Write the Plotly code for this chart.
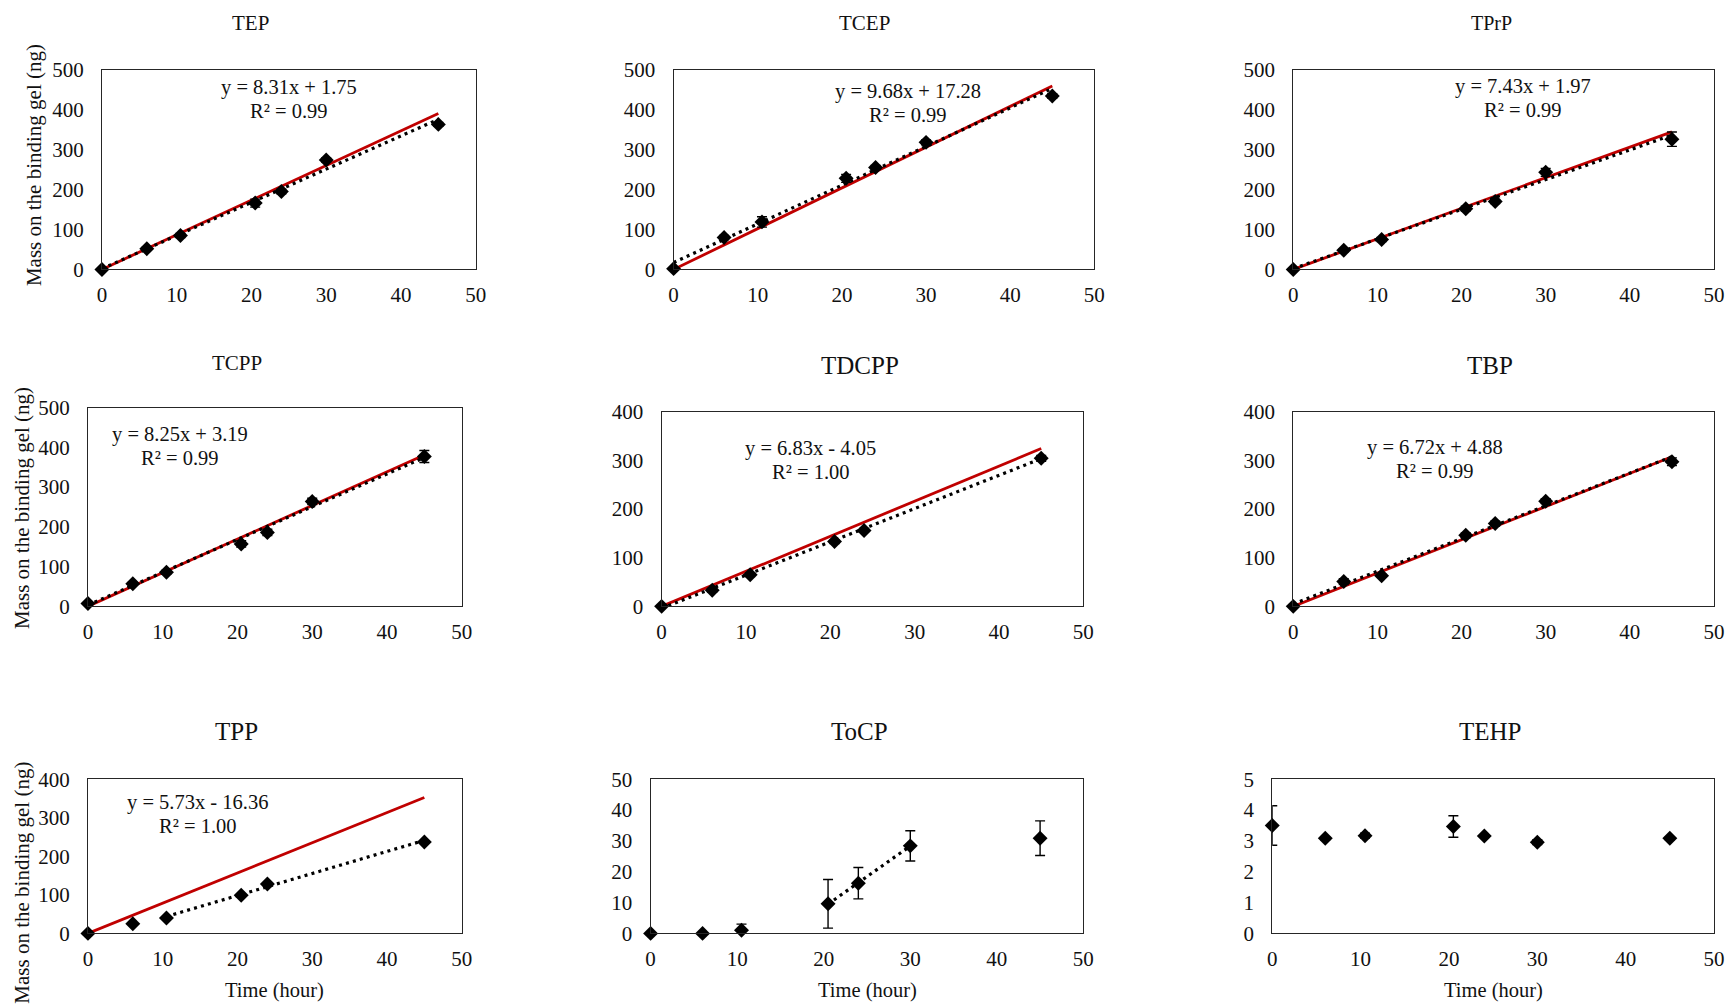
import plotly.graph_objects as go

# Sampling times (hour)
times = [0, 6, 10.5, 20.5, 24, 30, 45]

# Mass on the binding gel (ng) and standard deviations for each compound
tep = [0, 52, 85, 166, 195, 274, 363]
tep_err = [2, 4, 5, 10, 6, 5, 5]
tcep = [2, 80, 119, 228, 255, 318, 434]
tcep_err = [2, 5, 13, 10, 5, 6, 6]
tprp = [0, 48, 75, 152, 170, 243, 326]
tprp_err = [2, 4, 5, 6, 5, 10, 18]
tcpp = [7, 57, 86, 157, 186, 264, 377]
tcpp_err = [3, 4, 5, 8, 8, 8, 15]
tdcpp = [0, 33, 65, 133, 156, None, 304]
tdcpp_err = [2, 4, 4, 4, 4, 0, 6]
tbp = [0, 51, 63, 146, 170, 216, 297]
tbp_err = [2, 6, 3, 5, 5, 5, 8]
tpp = [0, 25, 40, 99, 128, None, 237]
tpp_err = [1, 2, 3, 3, 3, 0, 3]
tocp = [0, 0, 1.0, 9.6, 16.3, 28.4, 30.9]
tocp_err = [0, 0, 2.0, 7.9, 5.1, 4.9, 5.6]
tehp = [3.50, 3.09, 3.17, 3.47, 3.16, 2.96, 3.09]
tehp_err = [0.64, 0.05, 0.08, 0.35, 0.04, 0.08, 0.05]

titles = ["TEP", "TCEP", "TPrP", "TCPP", "TDCPP", "TBP", "TPP", "ToCP", "TEHP"]
title_sizes = [21, 21, 20, 21, 25, 25, 25, 25, 25]
y_max = [500, 500, 500, 500, 400, 400, 400, 50, 5]
y_step = [100, 100, 100, 100, 100, 100, 100, 10, 1]

# Linear fits (dotted) and theoretical uptake lines (red)
fit_slope = [8.31, 9.68, 7.43, 8.25, 6.83, 6.72, 5.73, None, None]
fit_intercept = [1.75, 17.28, 1.97, 3.19, -4.05, 4.88, -16.36, None, None]
fit_r2 = ["0.99", "0.99", "0.99", "0.99", "1.00", "0.99", "1.00", None, None]
fit_start = [0, 0, 0, 0, 0, 0, 10.5, 20.5, None]
fit_end = [45, 45, 45, 45, 45, 45, 45, 30, None]
theory_slope = [8.67, 10.2, 7.65, 8.46, 7.2, 6.83, 7.84, None, None]

values = [tep, tcep, tprp, tcpp, tdcpp, tbp, tpp, tocp, tehp]
errors = [tep_err, tcep_err, tprp_err, tcpp_err, tdcpp_err, tbp_err, tpp_err, tocp_err, tehp_err]

W, H = 1731, 1008
# on-screen extent of the paper area (page pixels)
PAPER_L, PAPER_R, PAPER_T, PAPER_B = 6, 1722, 9, 999


def fx(px):
    return (px - PAPER_L) / (PAPER_R - PAPER_L)


def fy(py):
    return 1 - (py - PAPER_T) / (PAPER_B - PAPER_T)


# plot boxes in page pixels: (left, right, top, bottom)
boxes = [
    (103, 477, 67, 268), (675, 1096, 67, 268), (1295, 1716, 67, 268),
    (89, 463, 407, 607), (663, 1085, 411, 607), (1295, 1716, 411, 607),
    (89, 463, 781, 936), (652, 1085, 781, 936), (1274, 1716, 781, 936),
]
title_pos = [(252, 20), (866, 20), (1493, 20), (238, 362), (861, 365), (1492, 365),
             (238, 733), (861, 733), (1492, 733)]
eq_pos = [(290, 85), (910, 89), (1525, 84), (181, 434), (812, 448), (1437, 447),
          (199, 804), None, None]

FONT = "Liberation Serif"
RED = "#C00000"
DOT = "3px,4.2px"

fig = go.Figure()
annotations = []

for i in range(9):
    ax = "" if i == 0 else str(i + 1)
    xref, yref = "x" + ax, "y" + ax
    l, r, t, b = boxes[i]

    # theoretical uptake line
    if theory_slope[i] is not None:
        fig.add_trace(go.Scatter(
            x=[0, 45], y=[0, theory_slope[i] * 45], mode="lines",
            line=dict(color=RED, width=2.8), xaxis=xref, yaxis=yref,
            hoverinfo="skip", showlegend=False))

    # linear trendline
    if fit_slope[i] is not None:
        xs = [fit_start[i], fit_end[i]]
        ys = [fit_slope[i] * v + fit_intercept[i] for v in xs]
        fig.add_trace(go.Scatter(
            x=xs, y=ys, mode="lines", line=dict(color="black", width=3.2, dash=DOT),
            xaxis=xref, yaxis=yref, hoverinfo="skip", showlegend=False))
    elif fit_start[i] is not None:
        # least-squares trend through the points inside the fitted window
        pts = [(t_, v) for t_, v in zip(times, values[i])
               if v is not None and fit_start[i] <= t_ <= fit_end[i]]
        n = len(pts)
        mx = sum(p[0] for p in pts) / n
        my = sum(p[1] for p in pts) / n
        s = sum((p[0] - mx) * (p[1] - my) for p in pts) / sum((p[0] - mx) ** 2 for p in pts)
        c = my - s * mx
        xs = [fit_start[i], fit_end[i]]
        fig.add_trace(go.Scatter(
            x=xs, y=[s * v + c for v in xs], mode="lines",
            line=dict(color="black", width=3.2, dash=DOT),
            xaxis=xref, yaxis=yref, hoverinfo="skip", showlegend=False))

    # error bars (clipped to the plot area)
    fig.add_trace(go.Scatter(
        x=times, y=values[i], mode="markers",
        marker=dict(size=1, color="rgba(0,0,0,0)"),
        error_y=dict(type="data", array=errors[i], color="black", thickness=1.4, width=5),
        xaxis=xref, yaxis=yref, showlegend=False, cliponaxis=True, hoverinfo="skip"))
    # measured points
    fig.add_trace(go.Scatter(
        x=times, y=values[i], mode="markers",
        marker=dict(symbol="diamond", size=11.5, color="black"),
        xaxis=xref, yaxis=yref, showlegend=False, cliponaxis=False))

    axis_common = dict(
        showgrid=False, zeroline=False, showline=True, mirror=True,
        linecolor="#262626", linewidth=1.2, ticks="",
        tickfont=dict(family=FONT, size=21, color="#111"),
    )
    fig.layout["xaxis" + ax] = dict(
        axis_common, domain=[fx(l), fx(r)], range=[0, 50], dtick=10, tick0=0,
        anchor=yref, fixedrange=True, ticklabelstandoff=6)
    fig.layout["yaxis" + ax] = dict(
        axis_common, domain=[fy(b), fy(t)], range=[0, y_max[i]],
        dtick=y_step[i], tick0=0, anchor=xref, fixedrange=True, ticklabelstandoff=13)

    tx, ty = title_pos[i]
    annotations.append(dict(
        text=titles[i], x=fx(tx), y=fy(ty), xref="paper", yref="paper",
        showarrow=False, xanchor="center", yanchor="middle",
        font=dict(family=FONT, size=title_sizes[i], color="#111")))

    if eq_pos[i] is not None:
        ex, ey = eq_pos[i]
        b0 = fit_intercept[i]
        sign = "+" if b0 >= 0 else "-"
        eq = f"y = {fit_slope[i]:.2f}x {sign} {abs(b0):.2f}"
        annotations.append(dict(
            text=eq, x=fx(ex), y=fy(ey), xref="paper", yref="paper",
            showarrow=False, xanchor="center", yanchor="middle",
            font=dict(family=FONT, size=20.5, color="#111")))
        annotations.append(dict(
            text=f"R² = {fit_r2[i]}", x=fx(ex), y=fy(ey + 24),
            xref="paper", yref="paper", showarrow=False,
            xanchor="center", yanchor="middle",
            font=dict(family=FONT, size=20.5, color="#111")))

# axis titles
for (lx, ly) in [(35, 163), (23, 508), (23, 885)]:
    annotations.append(dict(
        text="Mass on the binding gel (ng)", x=fx(lx), y=fy(ly),
        xref="paper", yref="paper", showarrow=False, textangle=-90,
        xanchor="center", yanchor="middle",
        font=dict(family=FONT, size=21, color="#111")))
for (lx, ly) in [(276, 993), (869, 993), (1495, 993)]:
    annotations.append(dict(
        text="Time (hour)", x=fx(lx), y=fy(ly),
        xref="paper", yref="paper", showarrow=False,
        xanchor="center", yanchor="middle",
        font=dict(family=FONT, size=20.5, color="#111")))

fig.update_layout(
    width=W, height=H, margin=dict(l=0, r=0, t=0, b=0),
    paper_bgcolor="white", plot_bgcolor="white",
    annotations=annotations, showlegend=False,
)

fig.write_html("out.html", config={"displayModeBar": False})
